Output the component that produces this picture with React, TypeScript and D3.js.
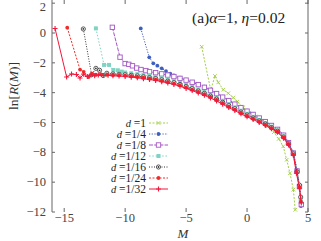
import React from "react";
import * as d3 from "d3";

// [M, ln R(M)]
const seriesD1: [number, number][] = [
  [-3.72, -0.92], [-2.98, -3.82], [-2.63, -2.88], [-2.36, -3.31], [-1.95, -3.8], [-1.54, -4.04],
  [-1.13, -4.33], [-0.8, -4.6], [-0.31, -4.98], [0.19, -5.34], [0.7, -5.6], [1.2, -5.88],
  [1.7, -6.25], [2.2, -6.65], [2.6, -7.1], [2.97, -7.6], [3.25, -8.5], [3.52, -9.4], [3.8, -10.5], [3.95, -11.85],
];
const seriesD4: [number, number][] = [
  [-8.72, 0.31], [-8.02, -1.63], [-7.69, -2.03], [-7.36, -2.19], [-7.0, -2.37], [-6.65, -2.55], [-6.3, -2.72],
  [-6, -2.85], [-5.5, -3.0], [-5, -3.13], [-4.5, -3.27], [-4, -3.43], [-3.5, -3.6], [-3, -3.8], [-2.5, -4.02],
  [-2, -4.26], [-1.5, -4.5], [-1, -4.74], [-0.5, -4.97], [0, -5.2], [0.5, -5.43], [1, -5.67], [1.5, -5.9],
  [2, -6.16], [2.5, -6.43], [3, -6.82], [3.4, -7.32], [3.8, -8.0], [4.1, -9.2], [4.3, -10.3], [4.42, -11.6],
];
const seriesD8: [number, number][] = [
  [-11.05, 0.38], [-10.42, -1.62], [-10.0, -2.05], [-9.7, -2.1], [-9.4, -2.2], [-9.05, -2.35], [-8.7, -2.45],
  [-8.3, -2.52], [-8, -2.6], [-7.5, -2.66], [-7, -2.74], [-6.5, -2.82], [-6, -2.92], [-5.5, -3.04], [-5, -3.16],
  [-4.5, -3.3], [-4, -3.46], [-3.5, -3.64], [-3, -3.84], [-2.5, -4.06], [-2, -4.3], [-1.5, -4.53], [-1, -4.77],
  [-0.5, -5.0], [0, -5.24], [0.5, -5.46], [1, -5.7], [1.5, -5.94], [2, -6.2], [2.5, -6.46], [3, -6.85],
  [3.4, -7.35], [3.8, -8.05], [4.1, -9.25], [4.3, -10.3], [4.45, -11.5],
];
const seriesD12: [number, number][] = [
  [-12.4, 0.31], [-11.73, -2.14], [-11.32, -2.14], [-10.97, -2.48], [-10.6, -2.5], [-10.28, -2.59], [-10, -2.65],
  [-9.5, -2.7], [-9, -2.76], [-8.5, -2.82], [-8, -2.88], [-7.5, -2.95], [-7, -3.03], [-6.5, -3.12], [-6, -3.22],
  [-5.5, -3.34], [-5, -3.48], [-4.5, -3.62], [-4, -3.78], [-3.5, -3.95], [-3, -4.13], [-2.5, -4.33], [-2, -4.55],
  [-1.5, -4.77], [-1, -4.99], [-0.5, -5.21], [0, -5.42], [0.5, -5.62], [1, -5.83], [1.5, -6.04], [2, -6.28],
  [2.5, -6.53], [3, -6.93], [3.4, -7.4], [3.8, -8.1], [4.1, -9.3], [4.3, -10.3], [4.4, -11.2],
];
const seriesD16: [number, number][] = [
  [-13.43, 0.27], [-12.75, -2.8], [-12.4, -2.37], [-12.1, -2.5], [-11.8, -2.85], [-11.5, -2.7], [-11, -2.75],
  [-10.5, -2.77], [-10, -2.8], [-9.5, -2.84], [-9, -2.88], [-8.5, -2.94], [-8, -3.0], [-7.5, -3.06], [-7, -3.14],
  [-6.5, -3.23], [-6, -3.33], [-5.5, -3.45], [-5, -3.59], [-4.5, -3.73], [-4, -3.89], [-3.5, -4.05], [-3, -4.23],
  [-2.5, -4.43], [-2, -4.65], [-1.5, -4.87], [-1, -5.08], [-0.5, -5.3], [0, -5.5], [0.5, -5.7], [1, -5.9],
  [1.5, -6.1], [2, -6.34], [2.5, -6.58], [3, -6.97], [3.4, -7.42], [3.8, -8.1], [4.1, -9.3], [4.3, -10.2], [4.4, -11.0],
];
const seriesD24: [number, number][] = [
  [-14.75, 0.36], [-13.7, -2.45], [-13.4, -2.6], [-13.0, -2.95], [-12.7, -2.72], [-12.4, -2.8], [-12.0, -2.78],
  [-11.5, -2.8], [-11, -2.81], [-10.5, -2.83], [-10, -2.86], [-9.5, -2.9], [-9, -2.94], [-8.5, -3.0], [-8, -3.06],
  [-7.5, -3.12], [-7, -3.2], [-6.5, -3.29], [-6, -3.39], [-5.5, -3.51], [-5, -3.65], [-4.5, -3.79], [-4, -3.95],
  [-3.5, -4.11], [-3, -4.29], [-2.5, -4.49], [-2, -4.71], [-1.5, -4.93], [-1, -5.14], [-0.5, -5.36], [0, -5.56],
  [0.5, -5.75], [1, -5.95], [1.5, -6.15], [2, -6.38], [2.5, -6.62], [3, -7.0], [3.4, -7.45], [3.8, -8.15],
  [4.05, -9.3], [4.3, -10.35], [4.42, -11.3],
];
const seriesD32: [number, number][] = [
  [-15.75, 0.3], [-14.8, -2.95], [-14.4, -2.75], [-14.0, -2.78], [-13.7, -3.02], [-13.4, -2.76], [-13.1, -2.92],
  [-12.8, -2.8], [-12.5, -2.86], [-12.2, -2.82], [-11.8, -2.85], [-11.4, -2.84], [-11.0, -2.87], [-10.5, -2.88],
  [-10.0, -2.92], [-9.5, -2.96], [-9.0, -3.0], [-8.5, -3.06], [-8.0, -3.12], [-7.5, -3.18], [-7.0, -3.26],
  [-6.5, -3.35], [-6.0, -3.45], [-5.5, -3.57], [-5.0, -3.72], [-4.5, -3.86], [-4.0, -4.02], [-3.5, -4.18],
  [-3.0, -4.36], [-2.5, -4.56], [-2.0, -4.78], [-1.5, -5.0], [-1.0, -5.2], [-0.5, -5.42], [0, -5.62], [0.5, -5.8],
  [1.0, -6.0], [1.5, -6.2], [2.0, -6.42], [2.5, -6.66], [3.0, -7.05], [3.4, -7.5], [3.8, -8.2], [4.05, -9.4],
  [4.3, -10.4], [4.45, -11.4],
];

const legendLabels = ["1", "1/4", "1/8", "1/12", "1/16", "1/24", "1/32"];
const xTicks = [-15, -10, -5, 0, 5];
const yTicks = [2, 0, -2, -4, -6, -8, -10, -12];

type Style = { color: string; dash: string; marker: string };
const styles: Style[] = [
  { color: "#a2cf48", dash: "2,1.5", marker: "x" },
  { color: "#3f5fbf", dash: "1.2,1.5", marker: "dot" },
  { color: "#a455c4", dash: "4,1.2", marker: "sqOpen" },
  { color: "#7fd3c3", dash: "1.5,1.8", marker: "sqFill" },
  { color: "#333333", dash: "1,1.5", marker: "circDot" },
  { color: "#f22a2a", dash: "2,1.5", marker: "dot" },
  { color: "#f0183c", dash: "", marker: "plus" },
];
const allSeries = [seriesD1, seriesD4, seriesD8, seriesD12, seriesD16, seriesD24, seriesD32];

function Marker({ kind, x, y, color }: { kind: string; x: number; y: number; color: string }) {
  if (kind === "x")
    return <path d={`M${x - 1.8},${y - 1.8}L${x + 1.8},${y + 1.8}M${x - 1.8},${y + 1.8}L${x + 1.8},${y - 1.8}`} stroke={color} strokeWidth={0.9} />;
  if (kind === "plus")
    return <path d={`M${x - 2.5},${y}L${x + 2.5},${y}M${x},${y - 2.5}L${x},${y + 2.5}`} stroke={color} strokeWidth={1.1} />;
  if (kind === "dot") return <circle cx={x} cy={y} r={1.9} fill={color} />;
  if (kind === "sqOpen")
    return <rect x={x - 2.2} y={y - 2.2} width={4.4} height={4.4} fill="white" stroke={color} strokeWidth={0.9} />;
  if (kind === "sqFill") return <rect x={x - 2} y={y - 2} width={4} height={4} fill={color} />;
  return (
    <g>
      <circle cx={x} cy={y} r={2.1} fill="white" stroke={color} strokeWidth={0.8} />
      <circle cx={x} cy={y} r={0.9} fill={color} />
    </g>
  );
}

export default function App() {
  const x = d3.scaleLinear().domain([-16, 5]).range([52, 308]);
  const y = d3.scaleLinear().domain([0, -12]).range([33, 212]);
  const line = d3.line<[number, number]>().x(d => x(d[0])).y(d => y(d[1]));
  const font = "'Liberation Serif', 'Times New Roman', serif";
  const axisColor = "#666";

  return (
    <svg width={321} height={241} style={{ position: "absolute", left: 0, top: 0, background: "white" }} fontFamily={font}>
      {/* frame: left and right borders only */}
      <line x1={52} x2={52} y1={0} y2={212} stroke={axisColor} />
      <line x1={308} x2={308} y1={0} y2={212} stroke={axisColor} />
      {yTicks.map(t => (
        <g key={t}>
          <line x1={52} x2={55} y1={y(t)} y2={y(t)} stroke={axisColor} />
          <line x1={305} x2={308} y1={y(t)} y2={y(t)} stroke={axisColor} />
          <text x={46} y={Math.max(y(t) + 4, 11)} textAnchor="end" fontSize={12.5} fill="#444">
            {t < 0 ? `\u2212${-t}` : t}
          </text>
        </g>
      ))}
      {xTicks.map(t => (
        <g key={t}>
          <line x1={x(t)} x2={x(t)} y1={0} y2={4} stroke={axisColor} />
          <line x1={x(t)} x2={x(t)} y1={208} y2={212} stroke={axisColor} />
          <text x={x(t)} y={222} textAnchor="middle" fontSize={12.5} fill="#444">
            {t < 0 ? `\u2212${-t}` : t}
          </text>
        </g>
      ))}
      <text x={183} y={238} textAnchor="middle" fontSize={13} fontStyle="italic" fill="#333">M</text>
      <text transform="translate(18,86) rotate(-90)" textAnchor="middle" fontSize={13.5} fill="#333">
        ln[<tspan fontStyle="italic">R</tspan>(<tspan fontStyle="italic">M</tspan>)]
      </text>
      <text x={192} y={23} fontSize={15.5} fill="#222">
        (a)<tspan fontStyle="italic">α</tspan>=1, <tspan fontStyle="italic">η</tspan>=0.02
      </text>

      {allSeries.map((s, i) => (
        <g key={i}>
          <path d={line(s) ?? ""} fill="none" stroke={styles[i].color} strokeWidth={1} strokeDasharray={styles[i].dash} />
          {s.map((p, j) => (
            <Marker key={j} kind={styles[i].marker} x={x(p[0])} y={y(p[1])} color={styles[i].color} />
          ))}
        </g>
      ))}

      {legendLabels.map((lab, i) => {
        const ly = 123 + i * 11;
        return (
          <g key={lab}>
            <text x={146} y={ly + 4} textAnchor="end" fontSize={11.5} fill="#222">
              <tspan fontStyle="italic" fontSize={10.5}>d</tspan> ={lab}
            </text>
            <line x1={149} x2={168} y1={ly} y2={ly} stroke={styles[i].color} strokeDasharray={styles[i].dash} />
            <Marker kind={styles[i].marker} x={158.5} y={ly} color={styles[i].color} />
          </g>
        );
      })}
    </svg>
  );
}
